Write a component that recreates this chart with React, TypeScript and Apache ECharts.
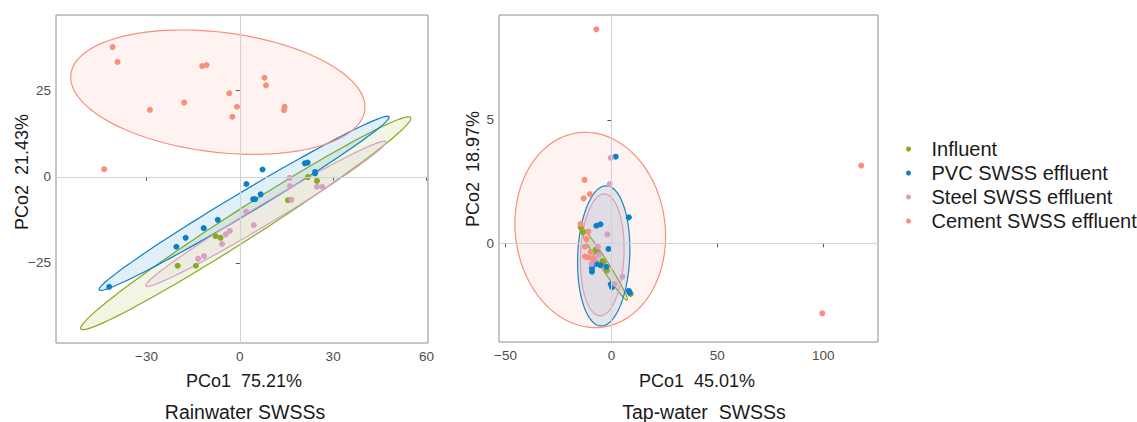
import React, { useEffect, useRef } from "react";
import * as echarts from "echarts";

const FONT = "'Liberation Sans', Arial, Helvetica, sans-serif";

const groups = ["Influent", "PVC SWSS effluent", "Steel SWSS effluent", "Cement SWSS effluent"];
const colors = ["#8aa91c", "#0a80c9", "#d6a0c6", "#f7907a"];
const fills = [
  "rgba(138,169,28,0.12)",
  "rgba(10,128,201,0.12)",
  "rgba(214,160,198,0.12)",
  "rgba(247,144,122,0.11)",
];

// Rainwater SWSSs: [PCo1, PCo2]
const rainInfluent = [[-20.0, -25.8], [-14.1, -25.8], [-7.8, -17.2], [-6.2, -17.7], [15.5, -6.8], [21.9, -0.1], [24.8, -1.2]];
const rainPVC = [[-42.0, -31.9], [-20.4, -20.3], [-17.4, -17.7], [-11.6, -14.9], [-7.1, -12.5], [2.1, -2.1], [7.3, 2.1], [4.3, -6.5], [4.9, -6.5], [6.7, -5.1], [20.9, 3.9], [21.8, 4.1], [24.2, 1.4], [24.2, 1.0]];
const rainSteel = [[-13.4, -23.8], [-11.5, -23.0], [-5.7, -19.5], [-4.5, -16.7], [-3.2, -15.7], [2.0, -10.1], [4.5, -14.0], [16.0, -0.3], [16.1, -2.7], [16.6, -6.7], [24.8, -2.9], [26.5, -2.9]];
const rainCement = [[-40.9, 37.6], [-39.3, 33.3], [-12.1, 32.1], [-10.7, 32.4], [7.9, 28.7], [8.4, 26.5], [-3.4, 24.2], [-17.9, 21.5], [-28.9, 19.4], [-0.9, 20.3], [14.4, 20.3], [14.2, 19.3], [-2.4, 17.4], [-43.6, 2.2]];

// Tap-water SWSSs: [PCo1, PCo2]
const tapInfluent = [[-14.5, 0.65], [-13.4, 0.45], [-7.4, -0.26], [-6.8, -0.36], [-4.3, -0.72], [-3.9, -0.78], [-2.2, -1.1], [9.1, -2.05]];
const tapPVC = [[2.0, 3.51], [8.2, 1.05], [-7.1, 0.71], [-5.2, 0.77], [-1.4, -0.23], [-7.1, -0.84], [-5.2, -0.89], [-2.4, -0.95], [-9.2, -1.01], [-9.2, -1.15], [-0.3, -1.66], [0.3, -1.78], [8.2, -1.93], [8.6, -2.0]];
const tapSteel = [[-0.3, 3.46], [-0.8, 2.4], [-1.9, 0.36], [-6.3, -0.14], [-9.4, -0.61], [-8.8, -0.6], [-9.4, -0.84], [-6.0, -0.47], [-7.9, -0.65], [5.2, -1.35], [1.6, -1.65]];
const tapCement = [[-7.1, 8.67], [118.0, 3.15], [99.6, -2.84], [-12.7, 2.57], [-10.2, 1.99], [-13.1, 1.82], [-14.6, 0.78], [-10.9, 0.47], [-11.8, 0.17], [-12.5, -0.14], [-12.5, -0.54], [-11.1, -0.57], [-8.7, -0.64], [-9.8, -0.35]];

// 95% ellipses: [centerX, centerY, u.x, u.y, v.x, v.y] (semi-diameters in data units)
const rainEllipses = [
  [1.93, -13.47, 53.04, 30.64, 2.6, -3.65],
  [1.38, -7.7, 46.61, 25.11, 1.81, -2.73],
  [8.36, -10.74, 38.57, 20.91, 1.66, -2.48],
  [-7.07, 24.53, 47.25, -5.21, -2.35, -17.26],
];
const tapEllipses = [
  [-3.78, -0.8, 11.19, -1.5, 1.59, 0.088],
  [-3.64, -0.51, -1.32, -2.84, 12.28, -0.04],
  [-4.34, -0.47, -1.13, -2.47, 10.25, -0.035],
  [-10.0, 0.54, 5.62, -3.94, 35.13, 0.37],
];

const rainX = { min: -59.1, max: 60.5, ticks: [-30, 0, 30, 60] };
const rainY = { min: -48.2, max: 46.9, ticks: [-25, 0, 25] };
const tapX = { min: -53.1, max: 125.9, ticks: [-50, 0, 50, 100] };
const tapY = { min: -4.0, max: 9.25, ticks: [0, 5] };

const rainSets = [rainInfluent, rainPVC, rainSteel, rainCement];
const tapSets = [tapInfluent, tapPVC, tapSteel, tapCement];

const fmt = (v: number) => String(v).replace("-", "\u2212");

function makeXAxis(idx: number, ax: { min: number; max: number; ticks: number[] }) {
  return {
    type: "value",
    gridIndex: idx,
    min: ax.min,
    max: ax.max,
    splitLine: { show: false },
    axisLine: { show: false },
    axisTick: { show: true, customValues: ax.ticks, length: 4, lineStyle: { color: "#555", width: 1 } },
    axisLabel: { customValues: ax.ticks, formatter: fmt, color: "#4d4d4d", fontSize: 13.5, fontFamily: FONT, margin: 6 },
  };
}
function makeYAxis(idx: number, ax: { min: number; max: number; ticks: number[] }) {
  return {
    type: "value",
    gridIndex: idx,
    min: ax.min,
    max: ax.max,
    splitLine: { show: false },
    axisLine: { show: false },
    axisTick: { show: true, customValues: ax.ticks, length: 4, lineStyle: { color: "#555", width: 1 } },
    axisLabel: { customValues: ax.ticks, formatter: fmt, color: "#4d4d4d", fontSize: 13.5, fontFamily: FONT, margin: 5 },
  };
}

function ellipseSeries(idx: number, ells: number[][]) {
  return {
    type: "custom",
    xAxisIndex: idx,
    yAxisIndex: idx,
    silent: true,
    clip: true,
    z: 1,
    data: ells.map((e, i) => [...e, i]),
    renderItem: (_params: any, api: any) => {
      const cx = api.value(0), cy = api.value(1);
      const ux = api.value(2), uy = api.value(3);
      const vx = api.value(4), vy = api.value(5);
      const g = api.value(6);
      const pts: number[][] = [];
      const N = 120;
      for (let k = 0; k <= N; k++) {
        const t = (k / N) * Math.PI * 2;
        pts.push(api.coord([cx + ux * Math.cos(t) + vx * Math.sin(t), cy + uy * Math.cos(t) + vy * Math.sin(t)]));
      }
      return {
        type: "polygon",
        shape: { points: pts },
        style: { fill: fills[g], stroke: colors[g], lineWidth: 1.2 },
      };
    },
    markLine: {
      silent: true,
      symbol: ["none", "none"],
      label: { show: false },
      lineStyle: { color: "#d2d2d2", width: 1, type: "solid" },
      data: [{ xAxis: 0 }, { yAxis: 0 }],
    },
  };
}

function scatterSeries(idx: number, sets: number[][][]) {
  return sets.map((d, i) => ({
    type: "scatter",
    name: groups[i],
    xAxisIndex: idx,
    yAxisIndex: idx,
    symbolSize: 6,
    z: 3,
    itemStyle: { color: colors[i], opacity: 1 },
    data: d,
  }));
}

const titleText = (text: string, x: number, y: number, size: number, rot = 0) => ({
  type: "text",
  x,
  y,
  rotation: rot,
  style: {
    text,
    fill: "#1a1a1a",
    fontSize: size,
    fontFamily: FONT,
    align: "center",
    verticalAlign: "middle",
    textAlign: "center",
    textVerticalAlign: "middle",
  },
});

export default function App() {
  const ref = useRef<HTMLDivElement>(null);
  useEffect(() => {
    if (!ref.current) return;
    const chart = echarts.init(ref.current, null, { renderer: "svg" });
    chart.setOption({
      animation: false,
      backgroundColor: "#ffffff",
      grid: [
        { left: 56, top: 15, width: 372, height: 328, show: true, borderColor: "#8c8c8c", borderWidth: 1, backgroundColor: "transparent" },
        { left: 499, top: 15, width: 379, height: 327, show: true, borderColor: "#8c8c8c", borderWidth: 1, backgroundColor: "transparent" },
      ],
      xAxis: [makeXAxis(0, rainX), makeXAxis(1, tapX)],
      yAxis: [makeYAxis(0, rainY), makeYAxis(1, tapY)],
      legend: {
        data: groups,
        orient: "vertical",
        left: 906,
        top: 139,
        padding: 0,
        itemWidth: 36,
        itemHeight: 5,
        itemGap: 4,
        icon: "circle",
        selectedMode: false,
        textStyle: { fontSize: 20, color: "#1a1a1a", fontFamily: FONT },
      },
      graphic: [
        titleText("PCo1  75.21%", 244, 381, 18),
        titleText("Rainwater SWSSs", 245, 412, 19.5),
        titleText("PCo1  45.01%", 697, 381, 18),
        titleText("Tap-water  SWSSs", 704, 412, 19.5),
        titleText("PCo2  21.43%", 22, 172, 18, Math.PI / 2),
        titleText("PCo2  18.97%", 473, 169, 18, Math.PI / 2),
      ],
      series: [
        ellipseSeries(0, rainEllipses),
        ellipseSeries(1, tapEllipses),
        ...scatterSeries(0, rainSets),
        ...scatterSeries(1, tapSets),
      ],
    });
    return () => chart.dispose();
  }, []);
  return <div ref={ref} style={{ position: "absolute", left: 0, top: 0, width: 1137, height: 422 }} />;
}
